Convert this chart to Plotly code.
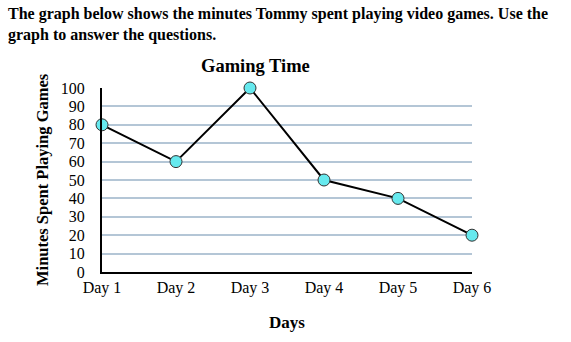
import plotly.graph_objects as go

days = ["Day 1", "Day 2", "Day 3", "Day 4", "Day 5", "Day 6"]
minutes = [80, 60, 100, 50, 40, 20]
y_ticks = list(range(0, 101, 10))

W, H = 571, 342
L, R, T, B = 102, 99, 88, 70
serif = "Liberation Serif, Times New Roman, serif"

fig = go.Figure()
fig.add_trace(go.Scatter(
    x=list(range(len(days))), y=minutes,
    mode="lines+markers",
    line=dict(color="black", width=2),
    marker=dict(size=12, color="#66e9ee", line=dict(color="#333333", width=1)),
    cliponaxis=False,
    showlegend=False,
))

fig.update_layout(
    width=W, height=H,
    margin=dict(l=L, r=R, t=T, b=B),
    paper_bgcolor="white", plot_bgcolor="white",
    font=dict(family=serif, size=16, color="black"),
    xaxis=dict(
        range=[0, len(days) - 1],
        tickvals=list(range(len(days))), ticktext=days,
        showgrid=False, zeroline=False,
        showline=True, linecolor="black", linewidth=2,
        ticks="", tickfont=dict(size=16), ticklabelstandoff=0,
    ),
    yaxis=dict(
        range=[0, 100],
        tickvals=y_ticks,
        showgrid=True, gridcolor="#b4c6d6", gridwidth=2,
        zeroline=False,
        showline=True, linecolor="black", linewidth=2,
        ticks="", tickfont=dict(size=16), ticklabelstandoff=12,
    ),
)

# small axis overhangs at the origin
fig.add_shape(type="line", xref="x", yref="y", xsizemode="pixel", xanchor=0,
              x0=-5, x1=0, y0=0, y1=0, line=dict(color="black", width=2))
fig.add_shape(type="line", xref="x", yref="y", ysizemode="pixel", yanchor=0,
              x0=0, x1=0, y0=-5, y1=0, line=dict(color="black", width=2))

pw, ph = W - L - R, H - T - B


def px(x):
    return (x - L) / pw


def py(y):
    return (H - B - y) / ph


fig.add_annotation(
    text="The graph below shows the minutes Tommy spent playing video games. Use the<br>graph to answer the questions.",
    xref="paper", yref="paper", x=px(6), y=py(3), xanchor="left", yanchor="top",
    align="left", showarrow=False,
    font=dict(family=serif, size=16, color="black", weight="bold"),
)
fig.add_annotation(
    text="Gaming Time", xref="paper", yref="paper", x=px(255), y=py(66),
    xanchor="center", yanchor="middle", showarrow=False,
    font=dict(family=serif, size=18.5, color="black", weight="bold"),
)
fig.add_annotation(
    text="Days", xref="paper", yref="paper", x=px(287), y=py(322),
    xanchor="center", yanchor="middle", showarrow=False,
    font=dict(family=serif, size=17, color="black", weight="bold"),
)
fig.add_annotation(
    text="Minutes Spent Playing Games", xref="paper", yref="paper", x=px(42), y=py(180),
    xanchor="center", yanchor="middle", textangle=-90, showarrow=False,
    font=dict(family=serif, size=16.5, color="black", weight="bold"),
)

fig.write_html("out.html")
